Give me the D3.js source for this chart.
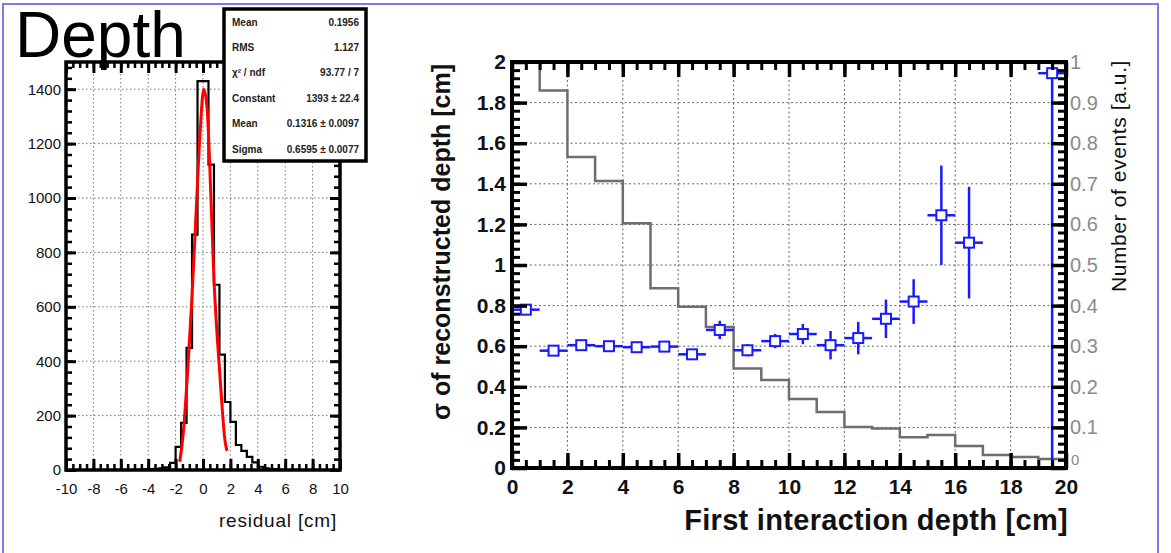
<!DOCTYPE html>
<html>
<head>
<meta charset="utf-8">
<script src="https://cdn.jsdelivr.net/npm/d3@7"></script>
<style>
  body { margin: 0; background: #fff; }
  svg { display: block; font-family: "Liberation Sans", Arial, sans-serif; }
</style>
</head>
<body>
<script>
// ---- left panel: residual histogram, 50 bins of 0.4 cm from -10 to 10
const residLo = -10;
const residBin = 0.4;
const residCounts = [
  0, 0, 0, 0, 0, 0, 0, 0, 0, 0,
  0, 0, 1, 1, 2, 3, 4, 6, 10, 26,
  85, 173, 449, 865, 1430, 1430, 1123, 681, 424, 250,
  177, 92, 70, 48, 28, 12, 6, 3, 2, 1,
  0, 0, 0, 0, 0, 0, 0, 0, 0, 0
];
// gaussian fit as drawn (x in cm, counts)
const fitX = [-1.7, -1.45, -1.1, -0.8, -0.5, -0.2, 0.05, 0.3, 0.5, 0.8, 1.05, 1.3, 1.6, 1.75];
const fitY = [30, 130, 380, 640, 950, 1250, 1400, 1330, 1110, 700, 480, 300, 110, 70];
const residXTicks = [-10, -8, -6, -4, -2, 0, 2, 4, 6, 8, 10];
const residYTicks = [0, 200, 400, 600, 800, 1000, 1200, 1400];
const statsNames = ["Mean", "RMS", "\u03c7\u00b2 / ndf", "Constant", "Mean", "Sigma"];
const statsValues = ["0.1956", "1.127", "93.77 / 7", "1393 \u00b1 22.4", "0.1316 \u00b1 0.0097", "0.6595 \u00b1 0.0077"];

// ---- right panel
const depthEdges = [0, 1, 2, 3, 4, 5, 6, 7, 8, 9, 10, 11, 12, 13, 14, 15, 16, 17, 18, 19, 20];
const eventFrac = [1.0, 0.93, 0.766, 0.707, 0.603, 0.443, 0.397, 0.347, 0.245, 0.217,
                   0.170, 0.138, 0.101, 0.097, 0.076, 0.081, 0.054, 0.032, 0.027, 0.022];
const sigmaX   = [0.5, 1.5, 2.5, 3.5, 4.5, 5.5, 6.5, 7.5, 8.5, 9.5, 10.5, 11.5, 12.5, 13.5, 14.5, 15.5, 16.5, 19.5];
const sigmaVal = [0.78, 0.578, 0.605, 0.600, 0.595, 0.598, 0.560, 0.680, 0.580, 0.625, 0.66, 0.605, 0.64, 0.735, 0.82, 1.245, 1.11, 1.945];
const sigmaErr = [0.012, 0.014, 0.014, 0.014, 0.014, 0.014, 0.02, 0.045, 0.03, 0.035, 0.05, 0.07, 0.08, 0.095, 0.11, 0.245, 0.275, 2.0];
const depthXTicks = [0, 2, 4, 6, 8, 10, 12, 14, 16, 18, 20];
const sigmaYTicks = [0, 0.2, 0.4, 0.6, 0.8, 1, 1.2, 1.4, 1.6, 1.8, 2];
const fracTicks = [0, 0.1, 0.2, 0.3, 0.4, 0.5, 0.6, 0.7, 0.8, 0.9, 1];

const W = 1171, H = 553;
const svg = d3.select('body').append('svg').attr('width', W).attr('height', H);
svg.append('rect').attr('width', W).attr('height', H).attr('fill', '#fff');

// slide frame
svg.append('path').attr('d', 'M3,553V4H1158V553')
  .attr('fill', 'none').attr('stroke', '#7a7af2').attr('stroke-width', 2);

svg.append('text').attr('x', 15).attr('y', 57)
  .attr('font-size', 64).attr('fill', '#000').text('Depth');

// draws inward ROOT-style ticks on one side with a d3 axis
function tickSide(g, axisFn, scale, values, size, width, transform) {
  g.append('g').attr('transform', transform)
    .call(axisFn(scale).tickValues(values).tickSize(size).tickFormat(''))
    .call(s => s.select('.domain').remove())
    .call(s => s.selectAll('line').attr('stroke', '#000').attr('stroke-width', width));
}

function range(a, b, step) {
  let out = [];
  for (let v = a; v <= b + 1e-9; v += step) out.push(+v.toFixed(4));
  return out;
}

// ================= left panel =================
const L = { x0: 66, x1: 340, y0: 62, y1: 470 };
const lx = d3.scaleLinear().domain([-10, 10]).range([L.x0, L.x1]);
const ly = d3.scaleLinear().domain([0, 1500]).range([L.y1, L.y0]);
const lg = svg.append('g');

// grid
lg.append('g').selectAll('line').data(residXTicks.slice(1, -1)).join('line')
  .attr('x1', d => lx(d)).attr('x2', d => lx(d)).attr('y1', L.y0).attr('y2', L.y1)
  .attr('stroke', '#777').attr('stroke-width', 1).attr('stroke-dasharray', '1.5,2.5');
lg.append('g').selectAll('line').data(residYTicks.slice(1)).join('line')
  .attr('x1', L.x0).attr('x2', L.x1).attr('y1', d => ly(d)).attr('y2', d => ly(d))
  .attr('stroke', '#777').attr('stroke-width', 1).attr('stroke-dasharray', '1.5,2.5');

// histogram outline
const residPts = residCounts.map((c, i) => [residLo + i * residBin, c]);
residPts.push([residLo + residCounts.length * residBin, residCounts[residCounts.length - 1]]);
lg.append('path')
  .attr('d', d3.line().x(d => lx(d[0])).y(d => ly(d[1])).curve(d3.curveStepAfter)(residPts))
  .attr('fill', 'none').attr('stroke', '#000').attr('stroke-width', 2.2);

// fit
lg.append('path')
  .attr('d', d3.line().x(d => lx(d[0])).y(d => ly(d[1])).curve(d3.curveMonotoneX)(fitX.map((x, i) => [x, fitY[i]])))
  .attr('fill', 'none').attr('stroke', '#f00').attr('stroke-width', 3);

// frame and ticks
lg.append('rect').attr('x', L.x0).attr('y', L.y0).attr('width', L.x1 - L.x0).attr('height', L.y1 - L.y0)
  .attr('fill', 'none').attr('stroke', '#000').attr('stroke-width', 3.5);
const lxMinor = range(-10, 10, 0.5);
const lyMinor = range(0, 1500, 40);
tickSide(lg, d3.axisBottom, lx, lxMinor, -6, 2.5, `translate(0,${L.y1})`);
tickSide(lg, d3.axisBottom, lx, residXTicks, -11, 3, `translate(0,${L.y1})`);
tickSide(lg, d3.axisTop, lx, lxMinor, -6, 2.5, `translate(0,${L.y0})`);
tickSide(lg, d3.axisTop, lx, residXTicks, -11, 3, `translate(0,${L.y0})`);
tickSide(lg, d3.axisLeft, ly, lyMinor, -6, 2.5, `translate(${L.x0},0)`);
tickSide(lg, d3.axisLeft, ly, residYTicks, -10, 3, `translate(${L.x0},0)`);
tickSide(lg, d3.axisRight, ly, lyMinor, -6, 2.5, `translate(${L.x1},0)`);
tickSide(lg, d3.axisRight, ly, residYTicks, -10, 3, `translate(${L.x1},0)`);

// labels
lg.append('g').attr('transform', `translate(0,${L.y1})`)
  .call(d3.axisBottom(lx).tickValues(residXTicks).tickSize(0).tickPadding(13).tickFormat(d => String(d)))
  .call(s => s.select('.domain').remove())
  .call(s => s.selectAll('text').attr('font-size', 15).attr('fill', '#111').attr('font-family', null));
lg.append('g').attr('transform', `translate(${L.x0 - 1},0)`)
  .call(d3.axisLeft(ly).tickValues(residYTicks).tickSize(0).tickPadding(4).tickFormat(d => String(d)))
  .call(s => s.select('.domain').remove())
  .call(s => s.selectAll('text').attr('font-size', 15).attr('fill', '#111').attr('font-family', null));
lg.append('text').attr('x', 337).attr('y', 527).attr('text-anchor', 'end')
  .attr('font-size', 19).attr('letter-spacing', 0.8).attr('fill', '#111').text('residual [cm]');

// stats box
const sb = svg.append('g');
sb.append('rect').attr('x', 224).attr('y', 9).attr('width', 142).attr('height', 152)
  .attr('fill', '#fff').attr('stroke', '#000').attr('stroke-width', 3.5);
const rowY = d3.scalePoint().domain(d3.range(statsNames.length)).range([22, 149]);
sb.selectAll('text.name').data(statsNames).join('text').attr('class', 'name')
  .attr('x', 232).attr('y', (d, i) => rowY(i)).attr('dy', '0.35em')
  .attr('font-size', 10).attr('font-weight', 'bold').attr('fill', '#222').text(d => d);
sb.selectAll('text.val').data(statsValues).join('text').attr('class', 'val')
  .attr('x', 359).attr('y', (d, i) => rowY(i)).attr('dy', '0.35em').attr('text-anchor', 'end')
  .attr('font-size', 10).attr('font-weight', 'bold').attr('fill', '#222').text(d => d);

// ================= right panel =================
const R = { x0: 512, x1: 1066, y0: 62, y1: 468 };
const rx = d3.scaleLinear().domain([0, 20]).range([R.x0, R.x1]);
const ry = d3.scaleLinear().domain([0, 2]).range([R.y1, R.y0]);
const ry2 = d3.scaleLinear().domain([0, 1]).range([R.y1, R.y0]);
const rg = svg.append('g');

svg.append('clipPath').attr('id', 'rclip').append('rect')
  .attr('x', R.x0).attr('y', R.y0).attr('width', R.x1 - R.x0).attr('height', R.y1 - R.y0);

rg.append('g').selectAll('line').data(depthXTicks.slice(1, -1)).join('line')
  .attr('x1', d => rx(d)).attr('x2', d => rx(d)).attr('y1', R.y0).attr('y2', R.y1)
  .attr('stroke', '#666').attr('stroke-width', 1).attr('stroke-dasharray', '2,2.5');
rg.append('g').selectAll('line').data(sigmaYTicks.slice(1, -1)).join('line')
  .attr('x1', R.x0).attr('x2', R.x1).attr('y1', d => ry(d)).attr('y2', d => ry(d))
  .attr('stroke', '#666').attr('stroke-width', 1).attr('stroke-dasharray', '2,2.5');

// event fraction histogram (right axis)
const fracPts = eventFrac.map((v, i) => [depthEdges[i], v]);
fracPts.push([depthEdges[depthEdges.length - 1], eventFrac[eventFrac.length - 1]]);
rg.append('path')
  .attr('d', d3.line().x(d => rx(d[0])).y(d => ry2(d[1])).curve(d3.curveStepAfter)(fracPts))
  .attr('fill', 'none').attr('stroke', '#6e6e6e').attr('stroke-width', 2.5);

// sigma points with errors
const pts = rg.append('g').attr('clip-path', 'url(#rclip)');
const sig = sigmaX.map((x, i) => ({ x, v: sigmaVal[i], e: sigmaErr[i] }));
pts.selectAll('line.ey').data(sig).join('line').attr('class', 'ey')
  .attr('x1', d => rx(d.x)).attr('x2', d => rx(d.x))
  .attr('y1', d => ry(d.v - d.e)).attr('y2', d => ry(d.v + d.e))
  .attr('stroke', '#1a1aff').attr('stroke-width', 2.5);
pts.selectAll('line.ex').data(sig).join('line').attr('class', 'ex')
  .attr('x1', d => rx(d.x - 0.5)).attr('x2', d => rx(d.x + 0.5))
  .attr('y1', d => ry(d.v)).attr('y2', d => ry(d.v))
  .attr('stroke', '#1a1aff').attr('stroke-width', 2.5);
pts.selectAll('rect').data(sig).join('rect')
  .attr('x', d => rx(d.x) - 5).attr('y', d => ry(d.v) - 5).attr('width', 10).attr('height', 10)
  .attr('fill', '#fff').attr('stroke', '#1a1aff').attr('stroke-width', 2);

// frame and ticks
rg.append('rect').attr('x', R.x0).attr('y', R.y0).attr('width', R.x1 - R.x0).attr('height', R.y1 - R.y0)
  .attr('fill', 'none').attr('stroke', '#000').attr('stroke-width', 4);
const rxMinor = range(0, 20, 0.5);
const ryMinor = range(0, 2, 0.04);
const ry2Minor = range(0, 1, 0.02);
tickSide(rg, d3.axisBottom, rx, rxMinor, -8, 3, `translate(0,${R.y1})`);
tickSide(rg, d3.axisBottom, rx, depthXTicks, -15, 3.5, `translate(0,${R.y1})`);
tickSide(rg, d3.axisTop, rx, rxMinor, -8, 3, `translate(0,${R.y0})`);
tickSide(rg, d3.axisTop, rx, depthXTicks, -15, 3.5, `translate(0,${R.y0})`);
tickSide(rg, d3.axisLeft, ry, ryMinor, -8, 3, `translate(${R.x0},0)`);
tickSide(rg, d3.axisLeft, ry, sigmaYTicks, -15, 3.5, `translate(${R.x0},0)`);
tickSide(rg, d3.axisRight, ry2, ry2Minor, -8, 3, `translate(${R.x1},0)`);
tickSide(rg, d3.axisRight, ry2, fracTicks, -15, 3.5, `translate(${R.x1},0)`);

// labels
rg.append('g').attr('transform', `translate(0,${R.y1})`)
  .call(d3.axisBottom(rx).tickValues(depthXTicks).tickSize(0).tickPadding(11).tickFormat(d3.format('d')))
  .call(s => s.select('.domain').remove())
  .call(s => s.selectAll('text').attr('font-size', 21).attr('font-weight', 'bold').attr('fill', '#111').attr('font-family', null));
rg.append('g').attr('transform', `translate(${R.x0 - 6},0)`)
  .call(d3.axisLeft(ry).tickValues(sigmaYTicks).tickSize(0).tickPadding(0).tickFormat(d3.format('~g')))
  .call(s => s.select('.domain').remove())
  .call(s => s.selectAll('text').attr('font-size', 21).attr('font-weight', 'bold').attr('fill', '#111').attr('font-family', null));
rg.append('g').attr('transform', `translate(${R.x1 + 4},0)`)
  .call(d3.axisRight(ry2).tickValues(fracTicks.slice(1)).tickSize(0).tickPadding(0).tickFormat(d3.format('~g')))
  .call(s => s.select('.domain').remove())
  .call(s => s.selectAll('text').attr('font-size', 20).attr('fill', '#8a8a8a').attr('font-family', null));
// the right axis zero sits just under the "20" label
rg.append('text').attr('x', R.x1 + 5).attr('y', ry2(0) - 3).attr('font-size', 15).attr('fill', '#8a8a8a').text('0');

rg.append('text').attr('x', 1068).attr('y', 530).attr('text-anchor', 'end')
  .attr('font-size', 29).attr('letter-spacing', 0.3).attr('font-weight', 'bold').attr('fill', '#111')
  .text('First interaction depth [cm]');
rg.append('text').attr('transform', 'translate(450,64) rotate(-90)').attr('text-anchor', 'end')
  .attr('font-size', 25).attr('font-weight', 'bold').attr('fill', '#111')
  .text('\u03c3 of reconstructed depth [cm]');
rg.append('text').attr('transform', 'translate(1126,60) rotate(-90)').attr('text-anchor', 'end')
  .attr('font-size', 21).attr('letter-spacing', 0.6).attr('fill', '#111')
  .text('Number of events [a.u.]');
</script>
</body>
</html>
